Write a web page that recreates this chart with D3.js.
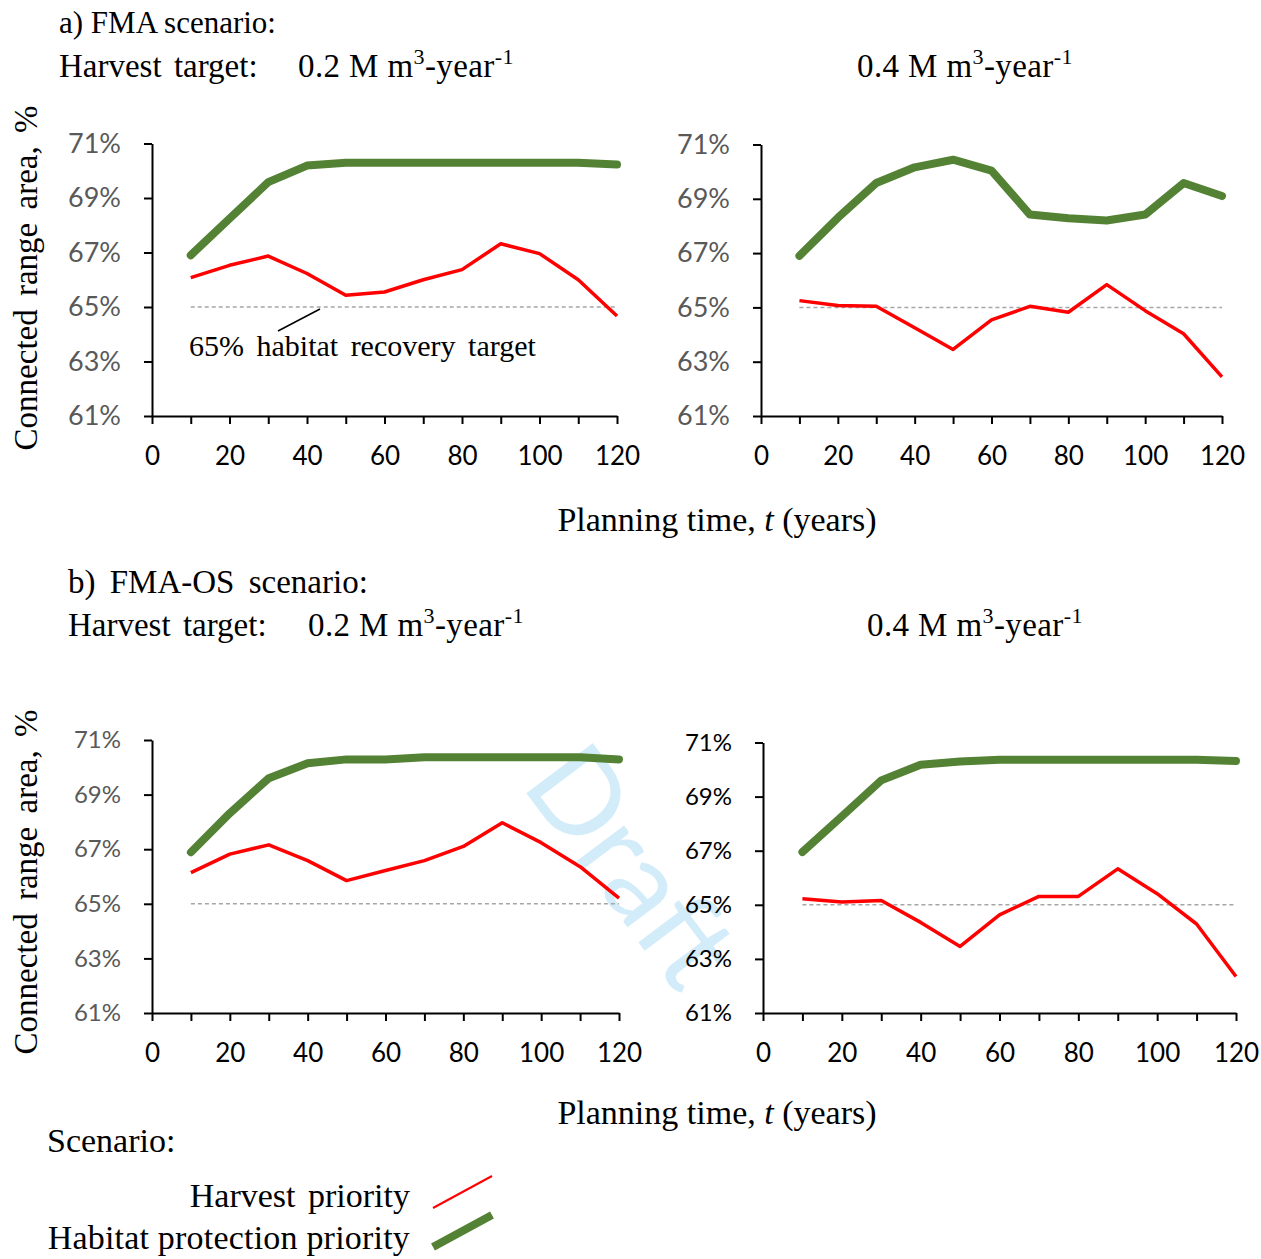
<!DOCTYPE html>
<html>
<head>
<meta charset="utf-8">
<script src="https://cdn.jsdelivr.net/npm/d3@7/dist/d3.min.js"></script>
<style>
  body { margin: 0; background: #fff; }
  svg { display: block; }
  .serif { font-family: "Liberation Serif", "Times New Roman", serif; fill: #000; }
  .axis path, .axis line { stroke: #000; stroke-width: 2; }
  .axis text { font-family: Lato, "Open Sans", sans-serif; }
  .harvest { fill: none; stroke: #ff0000; stroke-width: 3.5; stroke-linejoin: round; }
  .habitat { fill: none; stroke: #548235; stroke-width: 8; stroke-linejoin: round; stroke-linecap: round; }
  .target { stroke: #a6a6a6; stroke-width: 1.5; stroke-dasharray: 4 3; }
</style>
</head>
<body>
<svg width="1261" height="1259"></svg>
<script>
// planning years (decades)
var years = [10, 20, 30, 40, 50, 60, 70, 80, 90, 100, 110, 120];
var xTicks = d3.range(0, 121, 10);
var yTicks = [61, 63, 65, 67, 69, 71];
var recoveryTarget = 65;

// a) FMA scenario
var fma02Harvest = [66.08, 66.53, 66.87, 66.23, 65.43, 65.55, 66.0, 66.37, 67.32, 66.96, 66.0, 64.67];
var fma02Habitat = [66.9, 68.24, 69.58, 70.19, 70.29, 70.29, 70.29, 70.29, 70.29, 70.29, 70.29, 70.23];
var fma04Harvest = [65.25, 65.07, 65.04, 64.25, 63.45, 64.54, 65.04, 64.82, 65.84, 64.88, 64.03, 62.44];
var fma04Habitat = [66.9, 68.3, 69.58, 70.16, 70.44, 70.04, 68.42, 68.28, 68.2, 68.42, 69.58, 69.1];

// b) FMA-OS scenario
var os02Harvest = [66.14, 66.82, 67.16, 66.58, 65.85, 66.22, 66.58, 67.1, 67.97, 67.24, 66.36, 65.21];
var os02Habitat = [66.89, 68.32, 69.6, 70.15, 70.29, 70.29, 70.37, 70.37, 70.37, 70.37, 70.37, 70.29];
var os04Harvest = [65.22, 65.1, 65.16, 64.35, 63.46, 64.63, 65.31, 65.31, 66.33, 65.41, 64.29, 62.35];
var os04Habitat = [66.95, 68.27, 69.6, 70.18, 70.3, 70.36, 70.36, 70.36, 70.36, 70.36, 70.36, 70.32];

var svg = d3.select("svg");

// watermark sits behind everything
svg.append("text")
  .attr("transform", "translate(632,866) rotate(53)")
  .attr("text-anchor", "middle")
  .attr("dy", "0.35em")
  .style("font-family", "Lato, sans-serif")
  .style("font-size", "116px")
  .style("fill", "#d3ecfa")
  .text("Draft");

var panels = [
  { x0: 152, x1: 617, top: 143.5, bottom: 416, labelSize: 27, labelColor: "#595959", harvest: fma02Harvest, habitat: fma02Habitat },
  { x0: 761, x1: 1222, top: 144.5, bottom: 416, labelSize: 27, labelColor: "#595959", harvest: fma04Harvest, habitat: fma04Habitat },
  { x0: 152, x1: 619, top: 740, bottom: 1013, labelSize: 24, labelColor: "#595959", harvest: os02Harvest, habitat: os02Habitat },
  { x0: 763, x1: 1236, top: 742.5, bottom: 1013, labelSize: 24, labelColor: "#000", harvest: os04Harvest, habitat: os04Habitat }
];

panels.forEach(function(p) {
  var x = d3.scaleLinear().domain([0, 120]).range([p.x0, p.x1]);
  var y = d3.scaleLinear().domain([61, 71]).range([p.bottom, p.top]);
  var g = svg.append("g");

  g.append("line")
    .attr("class", "target")
    .attr("x1", x(years[0])).attr("x2", x(years[years.length - 1]))
    .attr("y1", y(recoveryTarget)).attr("y2", y(recoveryTarget));

  var line = d3.line().x(function(d, i) { return x(years[i]); }).y(function(d) { return y(d); });

  g.append("path").attr("class", "harvest").attr("d", line(p.harvest));
  g.append("path").attr("class", "habitat").attr("d", line(p.habitat));

  var yAxis = g.append("g")
    .attr("class", "axis")
    .attr("transform", "translate(" + p.x0 + ",0)")
    .call(d3.axisLeft(y).tickValues(yTicks).tickSize(8).tickSizeOuter(0).tickPadding(23)
      .tickFormat(function(d) { return d + "%"; }));
  yAxis.selectAll("text").style("font-size", p.labelSize + "px").style("fill", p.labelColor);

  var xAxis = g.append("g")
    .attr("class", "axis")
    .attr("transform", "translate(0," + p.bottom + ")")
    .call(d3.axisBottom(x).tickValues(xTicks).tickSize(8).tickSizeOuter(0).tickPadding(23)
      .tickFormat(function(d) { return d % 20 === 0 ? d : ""; }));
  xAxis.selectAll("text").style("font-size", "26px").style("fill", "#000");
});

function serifText(xp, yp, size, anchor) {
  return svg.append("text")
    .attr("class", "serif")
    .attr("x", xp).attr("y", yp)
    .attr("text-anchor", anchor || "start")
    .style("font-size", size + "px");
}

function harvestUnit(t) {
  t.append("tspan").text(" M m");
  t.append("tspan").attr("dy", -13).style("font-size", "22px").text("3");
  t.append("tspan").attr("dy", 13).text("-year");
  t.append("tspan").attr("dy", -13).style("font-size", "22px").text("-1");
}

// headings
serifText(59, 33, 31).text("a) FMA scenario:");
serifText(59, 77, 33).style("word-spacing", "4px").text("Harvest target:");
harvestUnit(serifText(298, 77, 33).style("letter-spacing", "0.4px").text("0.2"));
harvestUnit(serifText(857, 77, 33).style("letter-spacing", "0.4px").text("0.4"));

serifText(68, 593, 33).style("word-spacing", "6px").text("b) FMA-OS scenario:");
serifText(68, 636, 33).style("word-spacing", "4px").text("Harvest target:");
harvestUnit(serifText(308, 636, 33).style("letter-spacing", "0.4px").text("0.2"));
harvestUnit(serifText(867, 636, 33).style("letter-spacing", "0.4px").text("0.4"));

// y axis titles
[278, 882].forEach(function(cy) {
  svg.append("text")
    .attr("class", "serif")
    .attr("transform", "translate(37," + cy + ") rotate(-90)")
    .attr("text-anchor", "middle")
    .style("font-size", "33px")
    .style("word-spacing", "5px")
    .text("Connected range area, %");
});

// x axis titles
[531, 1124].forEach(function(by) {
  var t = serifText(717, by, 34, "middle");
  t.append("tspan").text("Planning time, ");
  t.append("tspan").style("font-style", "italic").text("t");
  t.append("tspan").text(" (years)");
});

// recovery target note
serifText(189, 356, 30).style("word-spacing", "5px").text("65% habitat recovery target");
svg.append("line")
  .attr("x1", 278).attr("y1", 331).attr("x2", 320).attr("y2", 309)
  .attr("stroke", "#000").attr("stroke-width", 1.5);

// legend
serifText(47, 1152, 34).text("Scenario:");
serifText(410, 1207, 34, "end").style("word-spacing", "4px").text("Harvest priority");
serifText(410, 1249, 34, "end").style("letter-spacing", "0.2px").text("Habitat protection priority");
svg.append("line").attr("x1", 433).attr("y1", 1208).attr("x2", 492).attr("y2", 1176)
  .attr("stroke", "#ff0000").attr("stroke-width", 2);
svg.append("line").attr("x1", 433).attr("y1", 1247).attr("x2", 492).attr("y2", 1215)
  .attr("stroke", "#548235").attr("stroke-width", 8);
</script>
</body>
</html>
